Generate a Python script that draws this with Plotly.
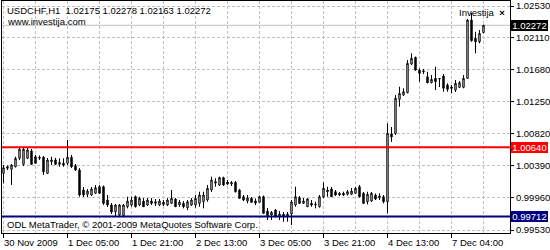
import plotly.graph_objects as go

symbol_title = "USDCHF,H1  1.02175 1.02278 1.02163 1.02272"

opens = [1.00289, 1.00356, 1.00343, 1.00378, 1.00490, 1.00410, 1.00490, 1.00588, 1.00512, 1.00490,
         1.00504, 1.00289, 1.00445, 1.00468, 1.00410, 1.00423, 1.00423, 1.00504, 1.00391, 1.00334,
         1.00066, 1.00008, 0.99999, 1.00022, 1.00110, 1.00110, 0.99932, 0.99865, 0.99775, 0.99731,
         0.99721, 0.99842, 0.99865, 0.99976, 0.99865, 0.99918, 0.99865, 0.99918, 0.99887, 0.99865,
         0.99901, 0.99865, 0.99887, 0.99945, 0.99865, 0.99887, 0.99828, 0.99865, 0.99865, 0.99887,
         0.99909, 0.99932, 1.00066, 1.00177, 1.00133, 1.00231, 1.00173, 1.00146, 1.00169, 1.00066,
         0.99976, 0.99918, 0.99954, 0.99918, 0.99901, 0.99976, 0.99784, 0.99731, 0.99797, 0.99708,
         0.99740, 0.99721, 0.99744, 0.99865, 0.99962, 0.99887, 0.99842, 0.99887, 0.99865, 0.99842,
         0.99976, 1.00066, 1.00079, 1.00043, 0.99999, 1.00022, 1.00008, 1.00008, 1.00022, 1.00110,
         1.00022, 0.99909, 0.99918, 0.99999, 0.99962, 0.99976, 0.99909, 1.00816, 1.00825, 1.01280,
         1.01338, 1.01369, 1.01753, 1.01843, 1.01672, 1.01646, 1.01583, 1.01503, 1.01561, 1.01552,
         1.01592, 1.01472, 1.01445, 1.01405, 1.01441, 1.01441, 1.01561, 1.02342, 1.02097, 1.02051,
         1.02175]
highs = [1.00401, 1.00394, 1.00414, 1.00512, 1.00632, 1.00632, 1.00632, 1.00615, 1.00535, 1.00528,
         1.00521, 1.00494, 1.00512, 1.00494, 1.00490, 1.00490, 1.00735, 1.00535, 1.00414, 1.00360,
         1.00106, 1.00079, 1.00106, 1.00133, 1.00133, 1.00126, 0.99999, 0.99891, 0.99878, 0.99878,
         0.99878, 0.99976, 0.99976, 0.99992, 0.99976, 0.99958, 0.99958, 0.99958, 0.99945, 0.99945,
         0.99932, 0.99958, 1.00066, 0.99958, 0.99932, 0.99918, 0.99932, 0.99958, 0.99999, 1.00043,
         1.00043, 1.00133, 1.00244, 1.00223, 1.00244, 1.00244, 1.00200, 1.00186, 1.00186, 1.00079,
         0.99999, 0.99999, 0.99972, 0.99954, 0.99992, 0.99992, 0.99825, 0.99784, 0.99811, 0.99784,
         0.99771, 0.99771, 0.99932, 1.00110, 0.99985, 0.99958, 0.99958, 0.99932, 0.99909, 0.99999,
         1.00169, 1.00110, 1.00106, 1.00066, 1.00039, 1.00043, 1.00066, 1.00093, 1.00106, 1.00133,
         1.00039, 1.00043, 1.00039, 1.00019, 1.00022, 0.99999, 1.00959, 1.00910, 1.01338, 1.01449,
         1.01428, 1.01806, 1.01896, 1.01851, 1.01695, 1.01686, 1.01650, 1.01606, 1.01717, 1.01566,
         1.01619, 1.01495, 1.01472, 1.01539, 1.01525, 1.01606, 1.02355, 1.02440, 1.02185, 1.02208,
         1.02278]
lows = [1.00156, 1.00334, 1.00133, 1.00367, 1.00468, 1.00387, 1.00481, 1.00401, 1.00414, 1.00468,
        1.00267, 1.00280, 1.00401, 1.00401, 1.00378, 1.00378, 1.00401, 1.00360, 1.00320, 0.99976,
        0.99972, 0.99972, 0.99985, 1.00012, 1.00012, 0.99865, 0.99838, 0.99744, 0.99717, 0.99717,
        0.99710, 0.99820, 0.99842, 0.99831, 0.99851, 0.99838, 0.99851, 0.99865, 0.99851, 0.99851,
        0.99851, 0.99851, 0.99878, 0.99838, 0.99838, 0.99820, 0.99797, 0.99851, 0.99828, 0.99842,
        0.99820, 0.99909, 1.00039, 1.00110, 1.00120, 1.00120, 1.00133, 1.00120, 1.00032, 0.99945,
        0.99918, 0.99887, 0.99891, 0.99865, 0.99891, 0.99744, 0.99664, 0.99664, 0.99697, 0.99664,
        0.99641, 0.99641, 0.99597, 0.99842, 0.99878, 0.99878, 0.99838, 0.99842, 0.99820, 0.99831,
        0.99958, 0.99976, 0.99972, 0.99985, 0.99985, 0.99985, 0.99992, 0.99999, 1.00012, 0.99965,
        0.99878, 0.99874, 0.99905, 0.99932, 0.99932, 0.99887, 0.99753, 1.00709, 1.00802, 1.01181,
        1.01325, 1.01361, 1.01739, 1.01663, 1.01516, 1.01619, 1.01495, 1.01495, 1.01405, 1.01445,
        1.01382, 1.01382, 1.01361, 1.01378, 1.01432, 1.01428, 1.01552, 1.02051, 1.01896, 1.02030,
        1.02163]
closes = [1.00364, 1.00378, 1.00401, 1.00490, 1.00611, 1.00611, 1.00602, 1.00410, 1.00423, 1.00504,
          1.00311, 1.00468, 1.00468, 1.00410, 1.00437, 1.00401, 1.00504, 1.00378, 1.00334, 0.99999,
          0.99999, 1.00052, 1.00079, 1.00097, 1.00022, 0.99887, 0.99865, 0.99771, 0.99865, 0.99865,
          0.99865, 0.99918, 0.99932, 0.99842, 0.99954, 0.99842, 0.99932, 0.99887, 0.99909, 0.99918,
          0.99874, 0.99932, 0.99954, 0.99842, 0.99905, 0.99842, 0.99909, 0.99932, 0.99954, 0.99999,
          0.99999, 1.00089, 1.00200, 1.00159, 1.00231, 1.00133, 1.00146, 1.00166, 1.00043, 0.99954,
          0.99932, 0.99958, 0.99901, 0.99891, 0.99976, 0.99753, 0.99721, 0.99767, 0.99708, 0.99744,
          0.99717, 0.99744, 0.99905, 0.99976, 0.99887, 0.99918, 0.99945, 0.99865, 0.99874, 0.99976,
          1.00089, 1.00043, 0.99976, 0.99999, 1.00022, 0.99999, 1.00043, 1.00052, 1.00089, 0.99976,
          0.99887, 1.00008, 1.00022, 0.99945, 0.99985, 0.99909, 1.00825, 1.00776, 1.01294, 1.01361,
          1.01382, 1.01762, 1.01829, 1.01672, 1.01628, 1.01659, 1.01503, 1.01548, 1.01516, 1.01559,
          1.01428, 1.01414, 1.01428, 1.01495, 1.01503, 1.01561, 1.02342, 1.02065, 1.02051, 1.02164,
          1.02272]

time_tick_bars = [0, 16, 32, 48, 64, 80, 96, 112]
time_tick_labels = ["30 Nov 2009", "1 Dec 05:00", "1 Dec 21:00", "2 Dec 13:00",
                    "3 Dec 05:00", "3 Dec 21:00", "4 Dec 13:00", "7 Dec 04:00"]
price_ticks = [0.99530, 0.99960, 1.00390, 1.00820, 1.01250, 1.01680, 1.02110, 1.02530]

bid_price = 1.02272
resistance_level = 1.00640
support_level = 0.99712

FONT = "Liberation Sans, Arial, sans-serif"
FS = 9.5

bars = list(range(len(closes)))

fig = go.Figure(go.Candlestick(
    x=bars, open=opens, high=highs, low=lows, close=closes,
    increasing=dict(line=dict(color="black", width=1), fillcolor="white"),
    decreasing=dict(line=dict(color="black", width=1), fillcolor="black"),
    whiskerwidth=0, hoverinfo="skip", showlegend=False,
))

y_top = 1.02597
y_bot = 0.99490

fig.update_layout(
    width=550, height=250,
    margin=dict(l=2, r=40, t=1, b=17),
    paper_bgcolor="white", plot_bgcolor="white",
    boxgap=0.5,
    font=dict(family=FONT, size=FS, color="black"),
    showlegend=False,
    xaxis=dict(
        range=[-0.375, 126.625], rangeslider=dict(visible=False),
        tickmode="linear", tick0=0, dtick=16, ticks="outside", ticklen=4,
        tickcolor="black", showticklabels=False,
        showgrid=True, gridcolor="#C0C0C0", griddash="3px,2px", gridwidth=1,
        minor=dict(tickmode="linear", tick0=0, dtick=8, showgrid=True,
                   gridcolor="#C0C0C0", griddash="3px,2px", gridwidth=1, ticks=""),
        showline=True, linecolor="black", linewidth=1, mirror=True, zeroline=False,
        fixedrange=True,
    ),
    yaxis=dict(
        range=[y_bot, y_top], side="right",
        tickmode="array", tickvals=price_ticks,
        ticktext=[f"{v:.5f}" for v in price_ticks],
        ticks="outside", ticklen=3, tickcolor="black",
        tickfont=dict(family=FONT, size=FS, color="black"),
        showgrid=True, gridcolor="#C0C0C0", griddash="3px,2px", gridwidth=1,
        showline=True, linecolor="black", linewidth=1, mirror=True, zeroline=False,
        fixedrange=True,
    ),
)

shapes = [
    dict(type="line", xref="paper", x0=0, x1=1, yref="y", y0=bid_price, y1=bid_price,
         line=dict(color="#C0C0C0", width=1), layer="below"),
    dict(type="line", xref="paper", x0=0, x1=1, yref="y", y0=resistance_level, y1=resistance_level,
         line=dict(color="#FF0000", width=2), layer="above"),
    dict(type="line", xref="paper", x0=0, x1=1, yref="y", y0=support_level, y1=support_level,
         line=dict(color="#000080", width=2), layer="above"),
]
fig.update_layout(shapes=shapes)

ann = []
for b, t in zip(time_tick_bars, time_tick_labels):
    ann.append(dict(x=b, xref="x", y=0, yref="paper", text=t, showarrow=False,
                    xanchor="left", yanchor="middle", xshift=0, yshift=-9,
                    borderpad=0, borderwidth=0,
                    font=dict(family=FONT, size=FS, color="black")))

for val, bg in [(bid_price, "black"), (resistance_level, "#FF0000"), (support_level, "#000080")]:
    ann.append(dict(x=1, xref="paper", y=val, yref="y", text=f"{val:.5f}", showarrow=False,
                    xanchor="left", yanchor="middle", xshift=1, bgcolor=bg,
                    width=37, height=11, borderpad=0, borderwidth=0, align="center",
                    font=dict(family=FONT, size=FS, color="white")))

ann.append(dict(x=0, xref="paper", y=1, yref="paper", text=symbol_title, showarrow=False,
                xanchor="left", yanchor="middle", xshift=5, yshift=-9.5,
                borderpad=0, borderwidth=0, font=dict(family=FONT, size=FS, color="black")))
ann.append(dict(x=0, xref="paper", y=1, yref="paper", text="www.investija.com", showarrow=False,
                xanchor="left", yanchor="middle", xshift=5, yshift=-20.5,
                borderpad=0, borderwidth=0, font=dict(family=FONT, size=FS, color="black")))
ann.append(dict(x=1, xref="paper", y=1, yref="paper", text="Investija  <b>×</b>", showarrow=False,
                xanchor="right", yanchor="middle", xshift=-5, yshift=-11,
                borderpad=0, borderwidth=0, font=dict(family=FONT, size=FS, color="black")))
ann.append(dict(x=0, xref="paper", y=0, yref="paper",
                text="ODL MetaTrader, © 2001-2009 MetaQuotes Software Corp.", showarrow=False,
                xanchor="left", yanchor="middle", xshift=5, yshift=9,
                borderpad=0, borderwidth=0, font=dict(family=FONT, size=FS, color="black")))
fig.update_layout(annotations=ann)

fig.write_html("out.html", config={"displayModeBar": False})
